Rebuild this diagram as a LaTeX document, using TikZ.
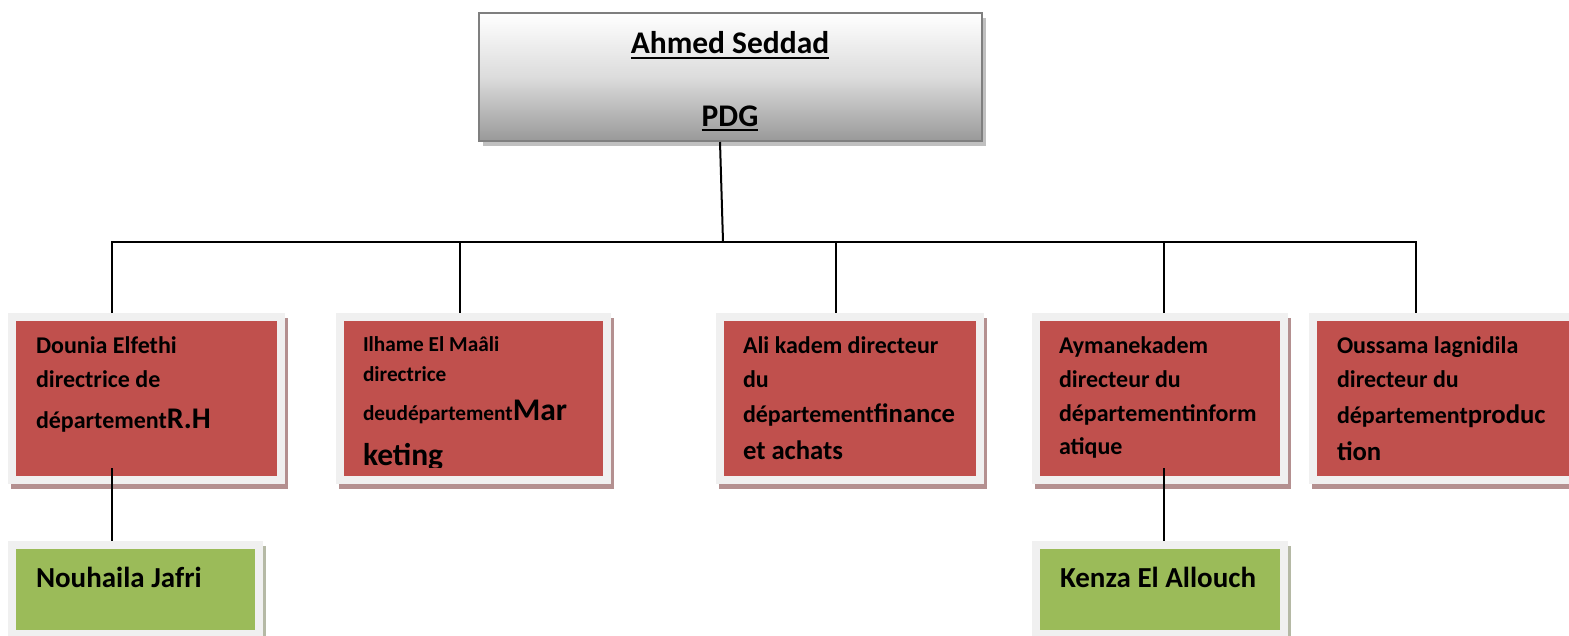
\documentclass[tikz,border=0pt]{standalone}
\usepackage{fontspec}
\setmainfont{Carlito}
\usetikzlibrary{shadows}
\definecolor{redc}{HTML}{C0504D}
\definecolor{greenc}{HTML}{9BBB59}
\definecolor{framec}{HTML}{F0F0F0}
\definecolor{rshadow}{HTML}{B49090}
\definecolor{gshadow}{HTML}{B5B9A5}
\definecolor{ceoborder}{HTML}{7F7F7F}
\definecolor{ceoshadow}{HTML}{C0C0C0}
\definecolor{ceobot}{HTML}{999999}
\definecolor{ceomid}{HTML}{DCDCDC}
\newcommand\fsz[1]{\fontsize{#1}{#1}\selectfont}
\begin{document}
\begin{tikzpicture}[x=1pt,y=-1pt,
  conn/.style={line width=2pt,black},
  framebox/.style={rectangle, fill=framec, inner sep=0pt, outer sep=0pt, draw=none,
    path picture={\fill[#1] ([xshift=8pt,yshift=-8pt]path picture bounding box.north west) rectangle ([xshift=-8pt,yshift=8pt]path picture bounding box.south east);}},
  redbox/.style={framebox=redc,
    drop shadow={shadow xshift=3pt, shadow yshift=-5pt, fill=rshadow, opacity=1}},
  greenbox/.style={framebox=greenc,
    drop shadow={shadow xshift=3pt, shadow yshift=-5pt, fill=gshadow, opacity=1}},
  txt/.style={anchor=base west, inner sep=0pt, outer sep=0pt, font=\bfseries\fsz{24}},
  stxt/.style={txt, font=\bfseries\fsz{21.3}},
  gtxt/.style={txt, font=\bfseries\fsz{29}},
  ctxt/.style={anchor=base, inner sep=0pt, outer sep=0pt, font=\bfseries\fsz{31.5}}
]
\useasboundingbox (0,0) rectangle (1569,635);
\fill[white] (0,0) rectangle (1569,635);

% top box
\node[draw=ceoborder, line width=2pt, top color=white, bottom color=ceobot, middle color=ceomid,
  minimum width=503pt, minimum height=128pt, inner sep=0pt,
  drop shadow={shadow xshift=4pt, shadow yshift=-5pt, fill=ceoshadow, opacity=1}] (ceo) at (730.5,77) {};
\node[ctxt] (n1) at (730,53) {Ahmed Seddad};
\node[ctxt] (n2) at (730,126) {PDG};
\draw[line width=2pt] ([yshift=-4.5pt]n1.base west) -- ([yshift=-4.5pt]n1.base east);
\draw[line width=2pt] ([yshift=-4pt]n2.base west) -- ([yshift=-4pt]n2.base east);

% red boxes
\node[redbox, minimum width=277pt, minimum height=171pt] (r1) at (146.5,398.5) {};
\node[redbox, minimum width=275pt, minimum height=171pt] (r2) at (473.5,398.5) {};
\node[redbox, minimum width=268pt, minimum height=171pt] (r3) at (850,398.5) {};
\node[redbox, minimum width=256pt, minimum height=171pt] (r4) at (1160,398.5) {};
\node[redbox, minimum width=276pt, minimum height=171pt] (r5) at (1447,398.5) {};

% green boxes
\node[greenbox, minimum width=255pt, minimum height=97pt] (g1) at (135.5,589.5) {};
\node[greenbox, minimum width=256pt, minimum height=97pt] (g2) at (1160,589.5) {};

% connectors
\coordinate (bus) at (723,241.5);
\coordinate (d1) at (112,241.5);
\coordinate (d2) at (460,241.5);
\coordinate (d3) at (836,241.5);
\coordinate (d4) at (1164,241.5);
\coordinate (d5) at (1416,241.5);
\draw[conn] ([xshift=-10.5pt]ceo.south) -- (bus);
\draw[conn, line join=miter] (d1 |- r1.north) -- (d1) -- (d5) -- (d5 |- r5.north);
\foreach \i in {2,3,4} \draw[conn] (d\i) -- (d\i |- r\i.north);
\coordinate (e1) at (112,468);
\coordinate (e4) at (1164,468);
\draw[conn] (e1) -- (e1 |- g1.north);
\draw[conn] (e4) -- (e4 |- g2.north);

% texts box 1
\node[txt] (t1a) at (36,353) {Dounia Elfethi};
\node[txt] (t1b) at (36,387) {directrice de};
\node[txt] (t1c) at (36,428) {département{\fsz{30}R.H}};
% box 2
\node[stxt] (t2a) at (363,351) {Ilhame El Maâli};
\node[stxt] (t2b) at (363,381) {directrice};
\node[stxt] (t2c) at (363,420) {deudépartement{\fsz{31.5}Mar}};
\begin{scope}
  \clip (336,430) rectangle (611,467);
  \node[txt, font=\bfseries\fsz{31.5}] (t2d) at (363,465) {keting};
\end{scope}
% box 3
\node[txt] (t3a) at (743,353) {Ali kadem directeur};
\node[txt] (t3b) at (743,387) {du};
\node[txt] (t3c) at (743,422) {département{\fsz{26.7}finance}};
\node[txt, font=\bfseries\fsz{26.7}] (t3d) at (743,459) {et achats};
% box 4
\node[txt] (t4a) at (1059,353) {Aymanekadem};
\node[txt] (t4b) at (1059,387) {directeur du};
\node[txt] (t4c) at (1059,421) {départementinform};
\node[txt] (t4d) at (1059,454) {atique};
% box 5
\node[txt] (t5a) at (1337,353) {Oussama lagnidila};
\node[txt] (t5b) at (1337,387) {directeur du};
\node[txt] (t5c) at (1337,423) {département{\fsz{26.7}produc}};
\node[txt, font=\bfseries\fsz{26.7}] (t5d) at (1337,460) {tion};
% green texts
\node[gtxt] (gt1) at (36,587) {Nouhaila Jafri};
\node[gtxt] (gt2) at (1060,587) {Kenza El Allouch};
\end{tikzpicture}
\end{document}
